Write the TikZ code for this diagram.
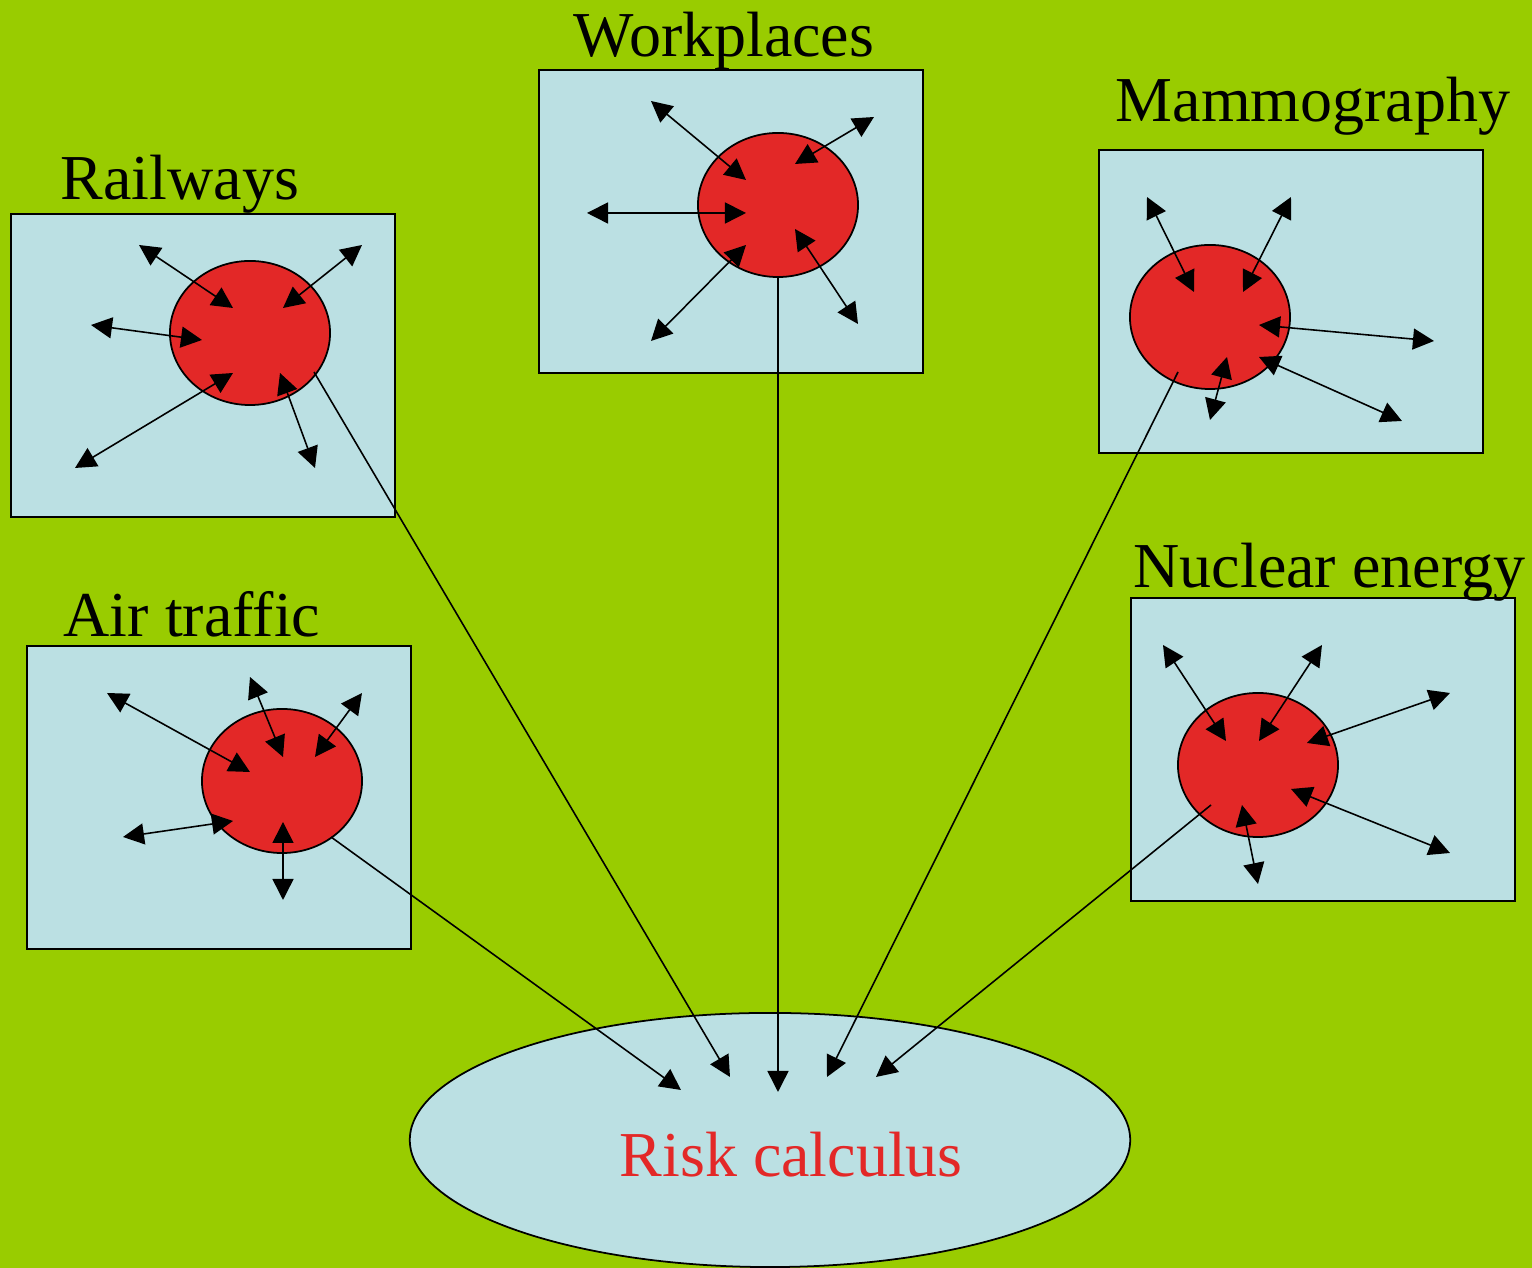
\documentclass[tikz,border=0pt]{standalone}
\usepackage{fontspec}
\setmainfont{Liberation Serif}
\usetikzlibrary{arrows.meta,shapes.geometric}
\definecolor{bggreen}{HTML}{99CC00}
\definecolor{boxblue}{HTML}{BBE0E3}
\definecolor{blobred}{HTML}{E32827}
\tikzset{
  panel/.style={draw=black,line width=0.5pt,fill=boxblue,rectangle,minimum width=3.84cm,minimum height=3.03cm,inner sep=0pt,anchor=north west},
  blob/.style={draw=black,line width=0.5pt,fill=blobred,ellipse,minimum width=1.6cm,minimum height=1.44cm,inner sep=0pt},
  title/.style={anchor=base west,inner sep=0pt,font=\fontsize{18.2}{20}\selectfont},
  dbl/.style={line width=0.45pt,{Triangle[length=0.21cm,width=0.21cm]}-{Triangle[length=0.21cm,width=0.21cm]}},
  feed/.style={line width=0.45pt,-{Triangle[length=0.21cm,width=0.21cm]}},
}
\newcommand\darr[3]{\coordinate (#1a) at #2; \coordinate (#1b) at #3; \draw[dbl] (#1a) -- (#1b);}
\begin{document}
\begin{tikzpicture}[x=0.01cm,y=-0.01cm]
\fill[bggreen] (0,0) rectangle (1532,1268);
\useasboundingbox (0,0) rectangle (1532,1268);

% risk ellipse
\node[draw=black,line width=0.5pt,fill=boxblue,ellipse,minimum width=7.2cm,minimum height=2.54cm,inner sep=0pt] (risk) at (770,1140) {};
\node[title,text=blobred] (risklabel) at (619,1177) {Risk calculus};

% panels
\node[panel] (rwbox) at (10,213) {};
\node[panel] (wpbox) at (538,69) {};
\node[panel] (mmbox) at (1098,149) {};
\node[panel] (atbox) at (26,645) {};
\node[panel] (nebox) at (1130,597) {};

% titles
\node[title] (rwt) at (60,200) {Railways};
\node[title] (wpt) at (573,57) {Workplaces};
\node[title] (mmt) at (1115,122) {Mammography};
\node[title] (att) at (63,637) {Air traffic};
\node[title] (net) at (1133,588) {Nuclear energy};

% blobs
\node[blob] (rwc) at (250,333) {};
\node[blob] (wpc) at (778,205) {};
\node[blob] (mmc) at (1210,317) {};
\node[blob] (atc) at (282,781) {};
\node[blob] (nec) at (1258,765) {};

% railways arrows
\darr{rw1}{(233,308)}{(139,245)}
\darr{rw2}{(283,308)}{(362,245)}
\darr{rw3}{(202,340)}{(91,325)}
\darr{rw4}{(233,373)}{(75,468)}
\darr{rw5}{(280,373)}{(315,468)}

% workplaces arrows
\darr{wp1}{(746,180)}{(651,101)}
\darr{wp2}{(795,164)}{(874,117)}
\darr{wp3}{(746,213)}{(587,213)}
\darr{wp4}{(746,245)}{(651,341)}
\darr{wp5}{(795,229)}{(858,324)}

% mammography arrows
\darr{mm1}{(1194,292)}{(1147,197)}
\darr{mm2}{(1243,292)}{(1291,197)}
\darr{mm3}{(1259,325)}{(1434,341)}
\darr{mm4}{(1259,357)}{(1402,421)}
\darr{mm5}{(1227,357)}{(1210,420)}

% air traffic arrows
\darr{at1}{(250,772)}{(107,693)}
\darr{at2}{(283,757)}{(250,677)}
\darr{at3}{(315,757)}{(362,693)}
\darr{at4}{(233,821)}{(123,837)}
\darr{at5}{(283,822)}{(283,900)}

% nuclear arrows
\darr{ne1}{(1226,741)}{(1163,645)}
\darr{ne2}{(1259,741)}{(1322,645)}
\darr{ne3}{(1307,743)}{(1450,693)}
\darr{ne4}{(1291,789)}{(1450,853)}
\darr{ne5}{(1242,805)}{(1258,884)}

% feeds into risk calculus
\coordinate (atout) at (331,837);
\coordinate (rwout) at (314,372);
\coordinate (wpout) at (778,277);
\coordinate (mmout) at (1178,372);
\coordinate (neout) at (1211,805);
\coordinate (atin) at (681,1090);
\coordinate (rwin) at (730,1077);
\coordinate (wpin) at (778,1092);
\coordinate (mmin) at (827,1077);
\coordinate (nein) at (876,1077);
\draw[feed] (atout) -- (atin);
\draw[feed] (rwout) -- (rwin);
\draw[feed] (wpout) -- (wpin);
\draw[feed] (mmout) -- (mmin);
\draw[feed] (neout) -- (nein);
\end{tikzpicture}
\end{document}
